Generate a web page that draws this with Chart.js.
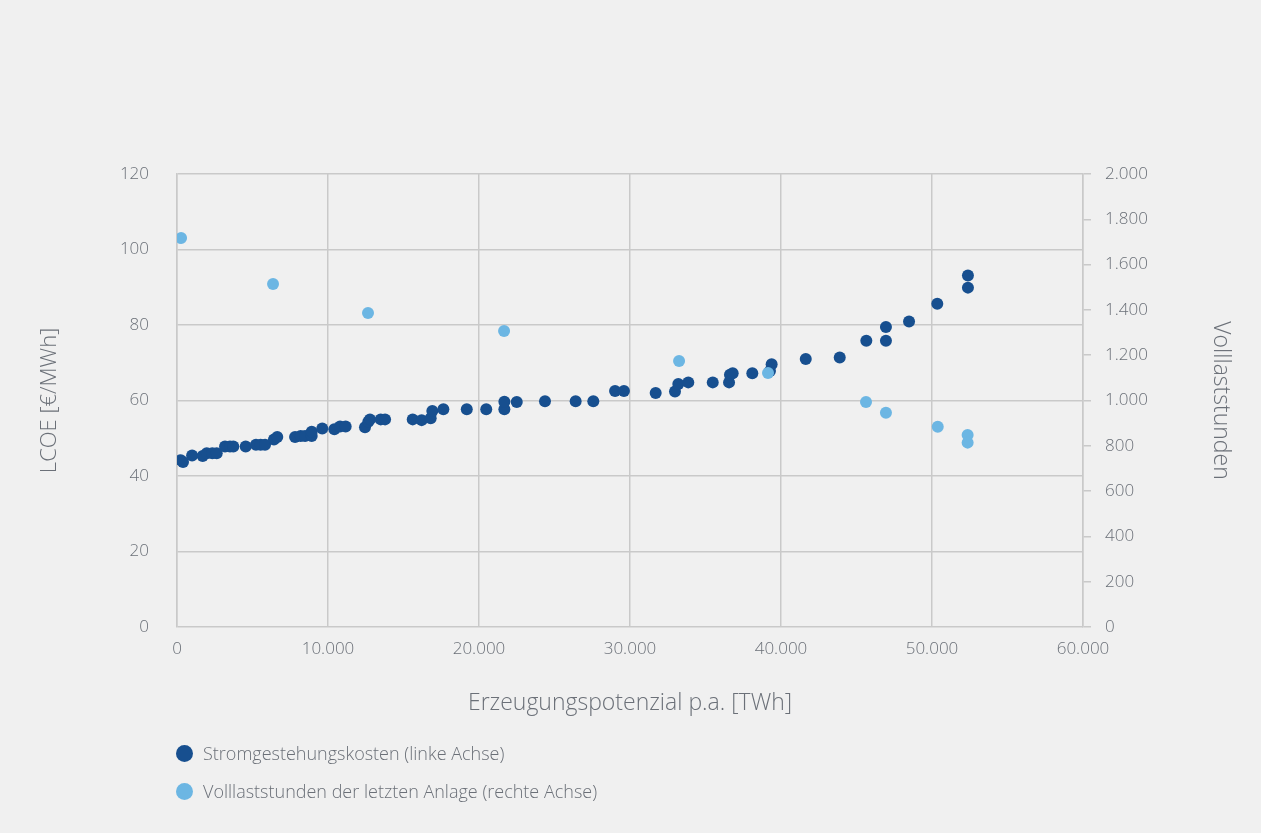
<!DOCTYPE html>
<html>
<head>
<meta charset="utf-8">
<script src="https://cdn.jsdelivr.net/npm/chart.js@4"></script>
<style>
  body { margin: 0; background: #f0f0f0; }
  #wrap { position: relative; width: 1261px; height: 833px; background: #f0f0f0; }
  #legend { position: absolute; left: 176px; top: 741px; font-family: "Open Sans", sans-serif; font-weight: 300; font-size: 18px; color: #6b7078; }
  #legend div { height: 38px; display: flex; align-items: flex-start; }
  #legend span.dot { display: inline-block; width: 17px; height: 17px; border-radius: 50%; margin-right: 10px; margin-top: 4px; }
</style>
</head>
<body>
<div id="wrap">
  <canvas id="chart" width="1261" height="833"></canvas>
  <div id="legend"></div>
</div>
<script>
// Erzeugungspotenzial p.a. [TWh] and LCOE [€/MWh]
const lcoeX = [250, 400, 1000, 1700, 1970, 2340, 2630, 3180, 3510, 3730, 4550, 5230, 5540, 5830,
  6420, 6640, 7820, 8190, 8480, 8920, 8920, 9620, 10420, 10800, 11170, 12450, 12670, 12780,
  13490, 13780, 15610, 16200, 16800, 16910, 17640, 19190, 20480, 21680, 21680, 22500, 24370,
  26400, 27570, 29010, 29600, 31700, 32980, 33200, 33860, 35480, 36560, 36620, 36800, 38100,
  39270, 39380, 41640, 43890, 45650, 46950, 46950, 48480, 50350, 52380, 52380];
const lcoeY = [44.2, 43.7, 45.4, 45.3, 46.0, 46.0, 46.0, 47.8, 47.8, 47.8, 47.8, 48.3, 48.3, 48.3,
  49.7, 50.3, 50.3, 50.6, 50.6, 50.6, 51.7, 52.6, 52.4, 53.1, 53.1, 52.9, 54.4, 55.0,
  55.0, 55.0, 55.0, 54.8, 55.3, 57.2, 57.7, 57.7, 57.7, 57.7, 59.7, 59.6, 59.8,
  59.8, 59.8, 62.5, 62.5, 62.0, 62.4, 64.4, 64.8, 64.8, 64.8, 66.8, 67.2, 67.2,
  67.8, 69.6, 71.0, 71.4, 75.8, 75.8, 79.5, 80.9, 85.6, 93.1, 89.9];

// Volllaststunden der letzten Anlage
const hoursX = [270, 6360, 12650, 21660, 33250, 39140, 45630, 46950, 50380, 52360, 52360];
const hoursY = [1717, 1514, 1386, 1307, 1174, 1121, 993, 946, 884, 848, 814];

const labels = ['Stromgestehungskosten (linke Achse)', 'Volllaststunden der letzten Anlage (rechte Achse)'];
const colors = ['#174f8f', '#6cb6e3'];

const fmt = v => String(v).replace(/\B(?=(\d{3})+(?!\d))/g, '.');
const toPoints = (xs, ys) => xs.map((x, i) => ({ x: x, y: ys[i] }));

const font = { family: '"Open Sans", sans-serif', weight: 300 };
const textColor = '#6b7078';
const gridColor = '#c9c9c9';

new Chart(document.getElementById('chart'), {
  type: 'scatter',
  data: {
    datasets: [
      { label: labels[0], data: toPoints(lcoeX, lcoeY), yAxisID: 'y', backgroundColor: colors[0],
        pointRadius: 6, pointBorderWidth: 0, order: 1 },
      { label: labels[1], data: toPoints(hoursX, hoursY), yAxisID: 'y2', backgroundColor: colors[1],
        pointRadius: 6, pointBorderWidth: 0, order: 0 }
    ]
  },
  options: {
    responsive: false,
    animation: false,
    layout: { padding: { left: 20, right: 18, top: 174, bottom: 106 } },
    plugins: { legend: { display: false }, tooltip: { enabled: false } },
    scales: {
      x: {
        type: 'linear', min: 0, max: 60000,
        ticks: { stepSize: 10000, callback: v => fmt(v), color: textColor, padding: 12,
          font: { ...font, size: 17 } },
        grid: { color: gridColor, drawTicks: false, lineWidth: 1.5 },
        border: { display: false },
        title: { display: true, text: 'Erzeugungspotenzial p.a. [TWh]', color: textColor,
          font: { ...font, size: 23 }, padding: { top: 0, bottom: 10 } },
        afterFit: s => { s.height = 100; }
      },
      y: {
        position: 'left', min: 0, max: 120,
        ticks: { stepSize: 20, color: textColor, padding: 28, font: { ...font, size: 17 } },
        grid: { color: gridColor, drawTicks: false, lineWidth: 1.5 },
        border: { display: true, color: gridColor, width: 1.5 },
        title: { display: true, text: 'LCOE [€/MWh]', color: textColor,
          font: { ...font, size: 22 }, padding: { top: 17, bottom: 0 } },
        afterFit: s => { s.width = 157; }
      },
      y2: {
        position: 'right', min: 0, max: 2000,
        ticks: { stepSize: 200, callback: v => fmt(v), color: textColor, padding: 14,
          font: { ...font, size: 17 } },
        grid: { drawOnChartArea: false, drawTicks: true, tickLength: 8, color: gridColor, lineWidth: 1.5 },
        border: { display: true, color: gridColor, width: 1.5 },
        title: { display: true, text: 'Volllaststunden', color: textColor,
          font: { ...font, size: 23 }, padding: { top: 9, bottom: 0 } },
        afterFit: s => { s.width = 160; }
      }
    }
  }
});

const legend = document.getElementById('legend');
labels.forEach((t, i) => {
  const row = document.createElement('div');
  row.innerHTML = '<span class="dot" style="background:' + colors[i] + '"></span>' + t;
  legend.appendChild(row);
});
</script>
</body>
</html>
